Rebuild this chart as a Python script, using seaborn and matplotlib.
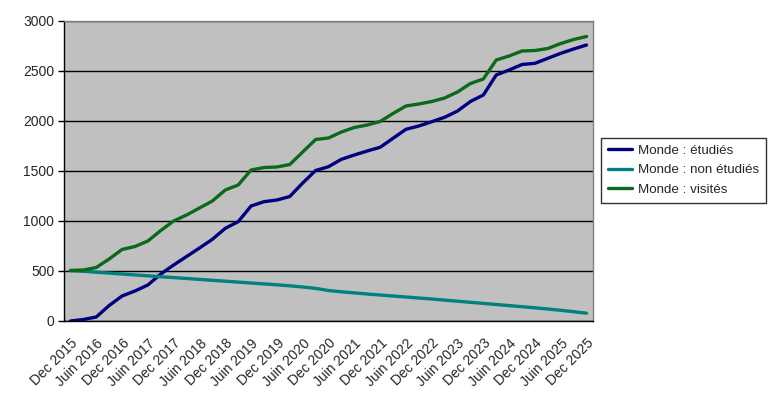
import numpy as np
import pandas as pd
import matplotlib
matplotlib.use("Agg")
import matplotlib.pyplot as plt
import seaborn as sns

# trimestres de Dec 2015 à Dec 2025
periods = ["Dec 2015", "Mar 2016", "Juin 2016", "Sep 2016", "Dec 2016", "Mar 2017",
           "Juin 2017", "Sep 2017", "Dec 2017", "Mar 2018", "Juin 2018", "Sep 2018",
           "Dec 2018", "Mar 2019", "Juin 2019", "Sep 2019", "Dec 2019", "Mar 2020",
           "Juin 2020", "Sep 2020", "Dec 2020", "Mar 2021", "Juin 2021", "Sep 2021",
           "Dec 2021", "Mar 2022", "Juin 2022", "Sep 2022", "Dec 2022", "Mar 2023",
           "Juin 2023", "Sep 2023", "Dec 2023", "Mar 2024", "Juin 2024", "Sep 2024",
           "Dec 2024", "Mar 2025", "Juin 2025", "Sep 2025", "Dec 2025"]

etudies = [0, 15, 40, 155, 250, 300, 360, 470, 560, 645, 730, 817, 927, 993,
           1150, 1193, 1210, 1245, 1380, 1505, 1543, 1617, 1660, 1700, 1737, 1827,
           1917, 1950, 1993, 2037, 2100, 2195, 2260, 2460, 2510, 2565, 2577, 2627,
           2677, 2720, 2760]

non_etudies = [505, 497, 488, 479, 470, 461, 452, 443, 434, 425, 416, 407, 398, 389,
               380, 371, 362, 352, 340, 326, 305, 292, 281, 270, 260, 250, 240, 230,
               220, 209, 198, 187, 176, 165, 154, 143, 132, 120, 107, 93, 78]

visites = [505, 510, 535, 620, 715, 745, 800, 905, 1000, 1060, 1130, 1200, 1310,
           1360, 1510, 1535, 1540, 1565, 1690, 1815, 1830, 1890, 1935, 1960, 1995,
           2075, 2150, 2170, 2195, 2230, 2290, 2375, 2420, 2610, 2650, 2700, 2705,
           2725, 2775, 2815, 2845]

series_names = ["Monde : étudiés", "Monde : non étudiés", "Monde : visités"]
colors = ["#000080", "#008080", "#0a6a1a"]

rows = []
for name, vals in zip(series_names, [etudies, non_etudies, visites]):
    for i, v in enumerate(vals):
        rows.append({"idx": i, "valeur": v, "serie": name})
df = pd.DataFrame(rows)

sns.set_style("white")
plt.rcParams["font.family"] = ["Liberation Sans", "DejaVu Sans"]

fig = plt.figure(figsize=(7.68, 4.0), dpi=100)
ax = fig.add_axes([64 / 768, 1 - 321 / 400, (593 - 64) / 768, 300 / 400])
ax.set_facecolor("#c0c0c0")

sns.lineplot(data=df, x="idx", y="valeur", hue="serie", palette=colors,
             linewidth=2.4, ax=ax, legend=True, sort=False)

ax.set_xlim(-0.5, len(periods) - 0.5)
ax.set_ylim(0, 3000)
ax.set_yticks(np.arange(0, 3001, 500))
ax.yaxis.grid(True, color="black", linewidth=1)
ax.set_axisbelow(True)

# labels tous les deux trimestres, graduations aux limites des catégories
label_pos = list(range(0, len(periods), 2))
ax.set_xticks(label_pos)
ax.set_xticklabels([periods[i] for i in label_pos], rotation=45, ha="right",
                   rotation_mode="anchor", fontsize=10)
ax.set_xticks(np.arange(-0.5, len(periods), 1), minor=True)
ax.tick_params(axis="x", which="major", length=0, pad=11)
ax.tick_params(axis="x", which="minor", length=5, width=1, color="black", direction="out")
ax.tick_params(axis="y", length=4, width=1, color="black", direction="out",
               labelsize=10, pad=3, left=True)
ax.set_xlabel("")
ax.set_ylabel("")

for side in ["top", "right"]:
    ax.spines[side].set_color("#808080")
    ax.spines[side].set_linewidth(1)
for side in ["left", "bottom"]:
    ax.spines[side].set_color("black")
    ax.spines[side].set_linewidth(1)

handles, labels = ax.get_legend_handles_labels()
ax.get_legend().remove()
leg = fig.legend(handles, labels, loc="center left",
                 bbox_to_anchor=(601 / 768, 1 - 170 / 400), fontsize=9.6,
                 frameon=True, fancybox=False, edgecolor="black",
                 handlelength=1.85, handletextpad=0.45, borderpad=0.5,
                 labelspacing=0.55, borderaxespad=0)
leg.get_frame().set_linewidth(1)

fig.savefig("out.png", dpi=100, facecolor="white")
